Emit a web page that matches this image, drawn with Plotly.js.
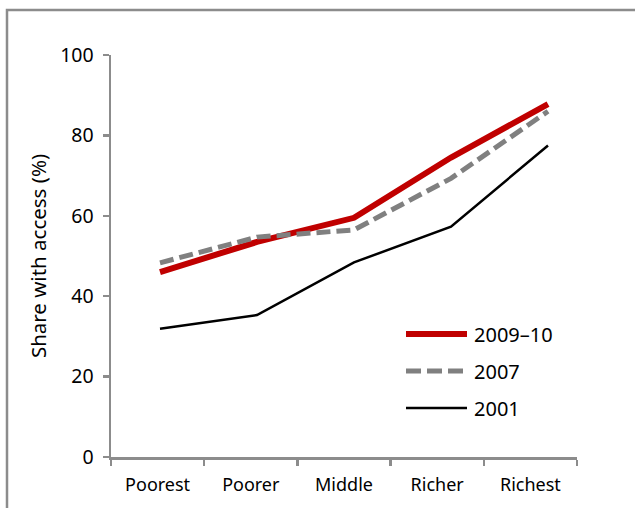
<!DOCTYPE html>
<html>
<head>
<meta charset="utf-8">
<script src="https://cdn.plot.ly/plotly-3.0.1.min.js"></script>
<style>html,body{margin:0;padding:0;background:#fff;}#chart{width:635px;height:508px;}</style>
</head>
<body>
<div id="chart"></div>
<script>
const categories = ["Poorest", "Poorer", "Middle", "Richer", "Richest"];
const seriesNames = ["2009–10", "2007", "2001"];
const values2009 = [46.0, 53.5, 59.5, 74.5, 87.8];
const values2007 = [48.3, 54.7, 56.5, 69.3, 86.0];
const values2001 = [31.9, 35.3, 48.4, 57.3, 77.5];
const yTicks = [0, 20, 40, 60, 80, 100];

const W = 635, H = 508;
const L = 111, R = 58, T = 55, B = 51;
const pw = W - L - R, ph = H - T - B;
const px = x => (x - L) / pw;
const py = y => (H - B - y) / ph;

const styles = [
  {color: "#c00000", width: 6, dash: "solid"},
  {color: "#808080", width: 5, dash: "14px,6px"},
  {color: "#000000", width: 2.5, dash: "solid"}
];
const seriesVals = [values2009, values2007, values2001];

const traces = seriesVals.map((v, i) => ({
  x: categories, y: v, type: "scatter", mode: "lines",
  name: seriesNames[i], xaxis: "x2", yaxis: "y",
  line: {color: styles[i].color, width: styles[i].width, dash: styles[i].dash},
  showlegend: false
}));
// carrier trace so the visible category axis is drawn
traces.unshift({x: categories, y: categories.map(() => null), type: "scatter", mode: "lines",
  xaxis: "x", yaxis: "y", line: {width: 0}, showlegend: false, hoverinfo: "skip"});

const FS = 18;
const legY = [334, 371, 408];
const shapes = [
  {type: "rect", xref: "paper", yref: "paper", x0: px(7), x1: px(660), y0: py(530), y1: py(10),
   line: {color: "#8c8c8c", width: 2.5}, fillcolor: "rgba(0,0,0,0)", layer: "below"}
];
const annotations = [];
seriesNames.forEach((n, i) => {
  shapes.push({type: "line", xref: "paper", yref: "paper", x0: px(406), x1: px(467), y0: py(legY[i]), y1: py(legY[i]),
    line: {color: styles[i].color, width: styles[i].width, dash: i === 1 ? "15px,6px" : "solid"}});
  annotations.push({xref: "paper", yref: "paper", x: px(472), y: py(legY[i]), text: n, showarrow: false,
    xanchor: "left", yanchor: "middle", font: {family: "Noto Sans", size: 20, color: "#000"}});
});

const layout = {
  width: W, height: H,
  margin: {l: L, r: R, t: T, b: B},
  paper_bgcolor: "#fff", plot_bgcolor: "#fff",
  font: {family: "Noto Sans", size: FS, color: "#000"},
  xaxis: {
    type: "category", categoryarray: categories, range: [-0.5, 4.5],
    showline: true, linecolor: "#8c8c8c", linewidth: 2.5,
    ticks: "outside", tickson: "boundaries", ticklen: 6, tickwidth: 2.5, tickcolor: "#8c8c8c",
    showgrid: false, zeroline: false, fixedrange: true,
    ticklabelstandoff: 10,
    tickfont: {family: "Noto Sans", size: FS, color: "#000"}
  },
  xaxis2: {
    type: "category", categoryarray: categories, overlaying: "x", range: [-0.505, 4.299],
    visible: false, fixedrange: true
  },
  yaxis: {
    range: [0, 100], tickvals: yTicks, ticktext: yTicks.map(String),
    showline: true, linecolor: "#8c8c8c", linewidth: 2.5,
    ticks: "outside", ticklen: 6, tickwidth: 2.5, tickcolor: "#8c8c8c",
    showgrid: false, zeroline: false, fixedrange: true,
    tickfont: {family: "Noto Sans", size: 19.5, color: "#000"},
    ticklabelstandoff: 5,
    title: {text: "Share with access (%)", font: {family: "Noto Sans", size: 20.5, color: "#000"}, standoff: 8}
  },
  shapes: shapes,
  annotations: annotations,
  showlegend: false
};

Plotly.newPlot("chart", traces, layout, {displayModeBar: false, staticPlot: true});
</script>
</body>
</html>
